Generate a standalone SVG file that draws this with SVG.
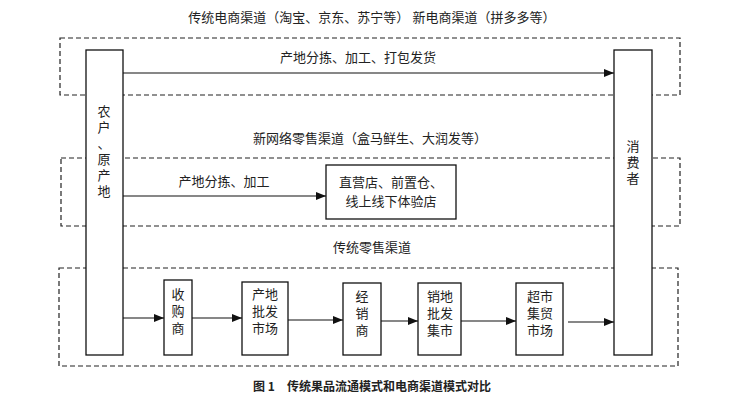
<svg xmlns="http://www.w3.org/2000/svg" width="752" height="404" viewBox="0 0 752 404">
<style>
text{font-family:"Liberation Serif","Noto Sans CJK SC",serif;font-size:13px;fill:#222}
.c{text-anchor:middle}
.b{fill:#fff;stroke:#111;stroke-width:1.3}
.d{fill:none;stroke:#222;stroke-width:1.2;stroke-dasharray:5,3}
.l{stroke:#111;stroke-width:1.2;fill:none;marker-end:url(#a)}
</style>
<defs><marker id="a" markerWidth="10" markerHeight="8" refX="10" refY="4" orient="auto" markerUnits="userSpaceOnUse"><path d="M0,0L10,4L0,8z" fill="#111"/></marker></defs>
<rect width="752" height="404" fill="#fff"/>
<text class="c" x="372" y="22">传统电商渠道（淘宝、京东、苏宁等）  新电商渠道（拼多多等）</text>
<text class="c" x="370" y="143">新网络零售渠道（盒马鲜生、大润发等）</text>
<text class="c" x="372" y="252">传统零售渠道</text>
<text class="c" x="372" y="391" style="font-family:'Noto Sans CJK SC',sans-serif;font-weight:bold;font-size:12px">图 1　传统果品流通模式和电商渠道模式对比</text>
<rect class="d" x="60" y="38" width="620" height="57"/>
<rect class="d" x="61" y="158" width="619" height="68"/>
<rect class="d" x="59" y="268" width="619" height="98"/>
<g id="farmer"><rect class="b" x="86" y="50" width="37" height="305"/>
<text class="c" x="104" y="116">农</text><text class="c" x="104" y="132">户</text><text class="c" x="104" y="148">、</text><text class="c" x="104" y="164">原</text><text class="c" x="104" y="180">产</text><text class="c" x="104" y="196">地</text></g>
<g id="consumer"><rect class="b" x="614" y="50" width="38" height="305"/>
<text class="c" x="633" y="151">消</text><text class="c" x="633" y="167">费</text><text class="c" x="633" y="183">者</text></g>
<g id="store"><rect class="b" x="326" y="165" width="130" height="54"/>
<text class="c" x="391" y="187">直营店、前置仓、</text><text class="c" x="391" y="206">线上线下体验店</text></g>
<g id="n1"><rect class="b" x="164" y="280" width="28" height="75"/><text class="c" x="178" y="299">收</text><text class="c" x="178" y="316">购</text><text class="c" x="178" y="333">商</text></g>
<g id="n2"><rect class="b" x="242" y="282" width="46" height="73"/><text class="c" x="265" y="299">产地</text><text class="c" x="265" y="316">批发</text><text class="c" x="265" y="333">市场</text></g>
<g id="n3"><rect class="b" x="343" y="283" width="38" height="72"/><text class="c" x="362" y="301">经</text><text class="c" x="362" y="318">销</text><text class="c" x="362" y="335">商</text></g>
<g id="n4"><rect class="b" x="418" y="283" width="43" height="72"/><text class="c" x="440" y="301">销地</text><text class="c" x="440" y="318">批发</text><text class="c" x="440" y="335">集市</text></g>
<g id="n5"><rect class="b" x="516" y="283" width="47" height="72"/><text class="c" x="540" y="301">超市</text><text class="c" x="540" y="318">集贸</text><text class="c" x="540" y="335">市场</text></g>
<g id="connectors">
<path class="l" d="M123,73H614"/><text class="c" x="358" y="62">产地分拣、加工、打包发货</text>
<path class="l" d="M123,196H326"/><text class="c" x="224" y="186">产地分拣、加工</text>
<path class="l" d="M123,318H164"/><path class="l" d="M192,318H242"/><path class="l" d="M288,320H343"/><path class="l" d="M381,321H418"/><path class="l" d="M461,321H516"/><path class="l" d="M568,322H614"/>
</g>
</svg>
